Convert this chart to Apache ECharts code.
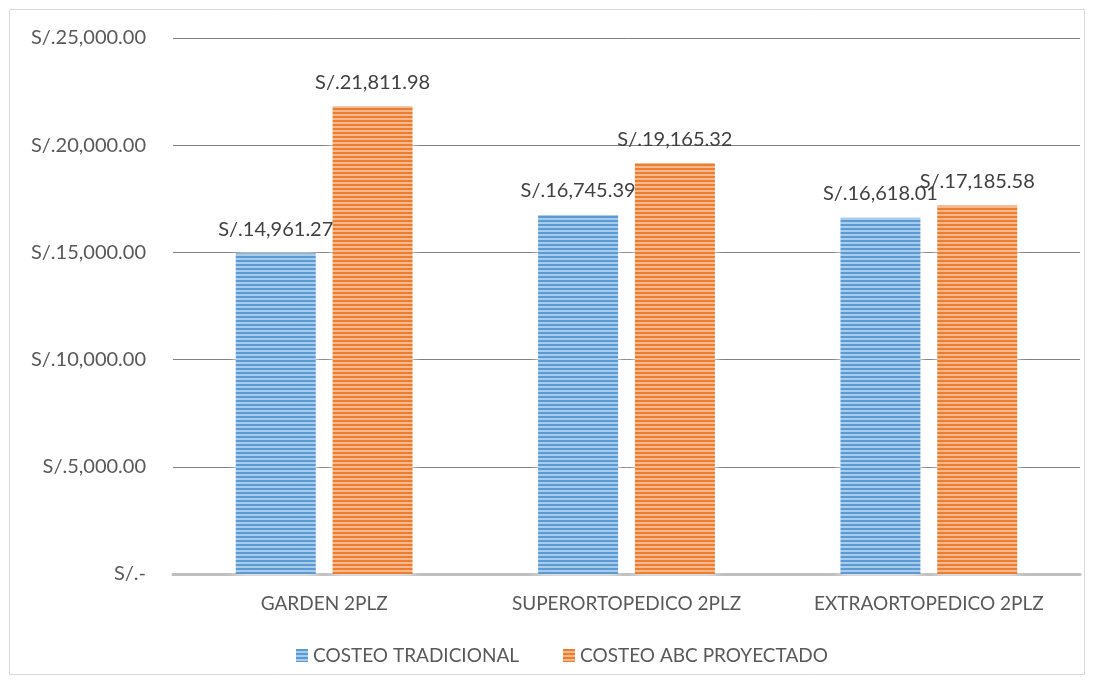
<!DOCTYPE html>
<html>
<head>
<meta charset="utf-8">
<script src="https://cdn.jsdelivr.net/npm/echarts@6/dist/echarts.min.js"></script>
<style>
  html, body { margin: 0; padding: 0; background: #fff; }
  #chart { width: 1094px; height: 684px; }
</style>
</head>
<body>
<div id="chart"></div>
<script>
// Products compared and their unit costs under each costing method (S/.)
const categories = ['GARDEN 2PLZ', 'SUPERORTOPEDICO 2PLZ', 'EXTRAORTOPEDICO 2PLZ'];
const seriesNames = ['COSTEO TRADICIONAL', 'COSTEO ABC PROYECTADO'];
const costeoTradicional = [14961.27, 16745.39, 16618.01];
const costeoABC = [21811.98, 19165.32, 17185.58];
const yTicks = [0, 5000, 10000, 15000, 20000, 25000];

const FONT = 'Lato, "Open Sans", sans-serif';
const TEXT = '#595959';
const FS_NUM = 20;   // money amounts
const FS_TXT = 19;   // category and legend names

function money(v) {
  if (v === 0) return 'S/.-';
  return 'S/.' + v.toLocaleString('en-US', { minimumFractionDigits: 2, maximumFractionDigits: 2 });
}

// Horizontal-stripe fill used by the bars and legend swatches
function stripes(dark, light) {
  const c = document.createElement('canvas');
  c.width = 8; c.height = 4;
  const g = c.getContext('2d');
  g.fillStyle = light; g.fillRect(0, 0, 8, 4);
  g.fillStyle = dark; g.fillRect(0, 0, 8, 2);
  return { image: c, repeat: 'repeat' };
}
const blueFill = stripes('#5B9BD5', '#A9CCEB');
const orangeFill = stripes('#ED7D31', '#F6B98E');

const chart = echarts.init(document.getElementById('chart'), null, { renderer: 'canvas' });

function barSeries(name, data, fill) {
  return {
    name: name,
    type: 'bar',
    data: data,
    barWidth: 80,
    barGap: '21%',
    itemStyle: { color: fill, shadowColor: 'rgba(255,255,255,1)', shadowBlur: 10 },
    label: {
      show: true,
      position: 'top',
      distance: 14,
      color: '#404040',
      fontFamily: FONT,
      fontSize: FS_NUM,
      formatter: p => money(p.value)
    }
  };
}

chart.setOption({
  animation: false,
  backgroundColor: '#fff',
  graphic: [{
    type: 'rect',
    shape: { x: 9.5, y: 9.5, width: 1075, height: 665 },
    style: { fill: 'none', stroke: '#D9D9D9', lineWidth: 1 },
    z: -10
  }],
  grid: { left: 173, right: 14, top: 38, bottom: 110, containLabel: false },
  legend: {
    top: 641,
    left: 291,
    itemWidth: 12,
    itemHeight: 13,
    itemGap: 44,
    icon: 'rect',
    textStyle: { color: TEXT, fontFamily: FONT, fontSize: FS_TXT },
    data: seriesNames
  },
  xAxis: {
    type: 'category',
    data: categories,
    axisLine: { lineStyle: { color: '#BFBFBF', width: 3 } },
    axisTick: { show: false },
    axisLabel: { color: TEXT, fontFamily: FONT, fontSize: FS_TXT, margin: 20 }
  },
  yAxis: {
    type: 'value',
    min: yTicks[0],
    max: yTicks[yTicks.length - 1],
    interval: yTicks[1] - yTicks[0],
    axisLine: { show: false },
    axisTick: { show: false },
    splitLine: { lineStyle: { color: '#7F7F7F', width: 1 } },
    axisLabel: { color: TEXT, fontFamily: FONT, fontSize: FS_NUM, margin: 27, formatter: v => money(v) }
  },
  series: [
    barSeries(seriesNames[0], costeoTradicional, blueFill),
    barSeries(seriesNames[1], costeoABC, orangeFill)
  ]
});
</script>
</body>
</html>
